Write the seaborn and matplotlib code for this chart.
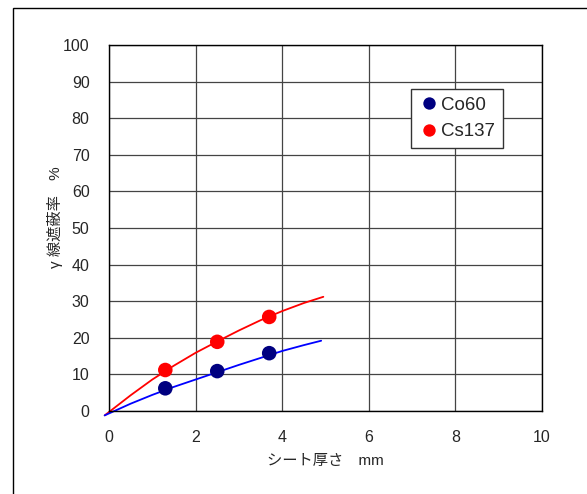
import matplotlib
matplotlib.use("Agg")
import matplotlib.pyplot as plt
import seaborn as sns
import pandas as pd
from matplotlib.patches import Rectangle

# 測定値
thickness = [1.3, 2.5, 3.7]
co60 = [6.2, 10.9, 15.8]
cs137 = [11.2, 18.9, 25.7]

# 近似曲線
curve_x_cs = [-0.1, 0.5, 1.0, 1.5, 2.0, 2.5, 3.0, 3.5, 4.0, 4.5, 4.95]
curve_y_cs = [-1.2, 4.3, 8.6, 12.4, 15.9, 19.0, 22.0, 24.8, 27.3, 29.5, 31.2]
curve_x_co = [-0.1, 0.5, 1.0, 1.5, 2.0, 2.5, 3.0, 3.5, 4.0, 4.5, 4.9]
curve_y_co = [-1.2, 2.0, 4.4, 6.6, 8.6, 10.6, 12.6, 14.5, 16.4, 18.0, 19.2]

sns.set_style("white")
plt.rcParams['font.family'] = ['Liberation Sans', 'Noto Sans CJK JP', 'DejaVu Sans']

fig = plt.figure(figsize=(5.87, 4.94), dpi=100)
ax = fig.add_axes([109/587, 83/494, 433/587, 366/494])

# 外枠
fig.patches.append(Rectangle((13/587, -0.1), 1.2, 1 - 8/494 + 0.1, transform=fig.transFigure,
                             fill=False, edgecolor='black', linewidth=1.0))

# 曲線
sns.lineplot(x=curve_x_cs, y=curve_y_cs, ax=ax, color='#ff0000', linewidth=1.3,
             sort=False, legend=False, clip_on=False)
sns.lineplot(x=curve_x_co, y=curve_y_co, ax=ax, color='#0000ff', linewidth=1.3,
             sort=False, legend=False, clip_on=False)

# 点
df = pd.DataFrame({
    'x': thickness * 2,
    'y': co60 + cs137,
    'kind': ['Co60'] * 3 + ['Cs137'] * 3,
})
sns.scatterplot(data=df, x='x', y='y', hue='kind', ax=ax,
                palette={'Co60': '#000080', 'Cs137': '#ff0000'},
                s=110, edgecolor='none', zorder=5, clip_on=False)

ax.set_xlim(0, 10)
ax.set_ylim(0, 100)
ax.set_xticks(range(0, 11, 2))
ax.set_yticks(range(0, 101, 10))
ax.grid(True, color='#444444', linewidth=0.9)
for s in ax.spines.values():
    s.set_visible(True)
    s.set_color('black')
    s.set_linewidth(1.0)
ax.tick_params(axis='both', length=0, labelsize=11.5, pad=14)
ax.tick_params(axis='x', pad=14)

ax.set_xlabel('シート厚さ　mm', fontsize=11, labelpad=6)
ax.set_ylabel('γ 線遮蔽率　%', fontsize=11)
ax.yaxis.set_label_coords(-0.107, 0.53)

leg = ax.legend(loc='upper left', bbox_to_anchor=(302/433, 322/366), borderaxespad=0,
                frameon=True, fancybox=False, edgecolor='#333333', framealpha=1,
                fontsize=13.5, handletextpad=0.1, borderpad=0.4, labelspacing=0.5,
                handlelength=1.1, markerscale=0.85)
leg.get_frame().set_linewidth(1.0)

fig.savefig('out.png', dpi=100, facecolor='white')
